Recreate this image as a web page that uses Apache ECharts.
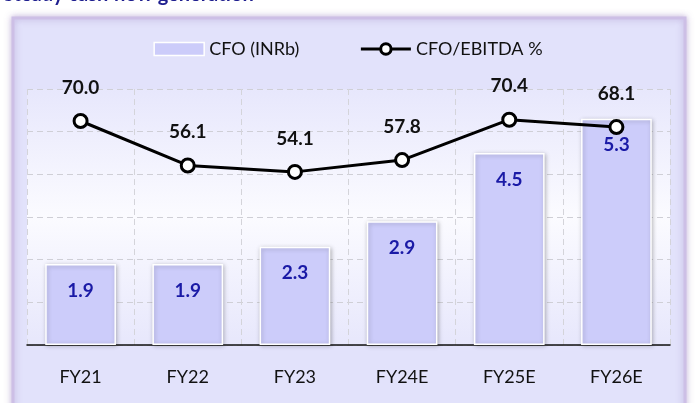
<!DOCTYPE html>
<html>
<head>
<meta charset="utf-8">
<script src="https://cdn.jsdelivr.net/npm/echarts@6/dist/echarts.min.js"></script>
<style>
  html, body { margin: 0; padding: 0; background: #fff; }
  #chart-container { width: 696px; height: 403px; }
</style>
</head>
<body>
<div id="chart-container"></div>
<script>
var dom = document.getElementById('chart-container');
var myChart = echarts.init(dom, null, { renderer: 'canvas' });

// data
var years = ['FY21', 'FY22', 'FY23', 'FY24E', 'FY25E', 'FY26E'];
var cfo = [1.9, 1.9, 2.3, 2.9, 4.5, 5.3];
var cfoEbitda = [70.0, 56.1, 54.1, 57.8, 70.4, 68.1];

var font = 'Lato, "Open Sans", sans-serif';

var option = {
  backgroundColor: '#fff',
  animation: false,
  textStyle: { fontFamily: font },
  title: {
    text: 'Steady cash flow generation',
    left: -2,
    top: -20,
    textStyle: { color: '#1f1f8f', fontSize: 20, fontWeight: 'bold', fontFamily: font }
  },
  graphic: [
    {
      type: 'rect',
      shape: { x: 13, y: 18, width: 672, height: 400 },
      style: {
        fill: '#e2e2fb',
        stroke: '#cdbfe6',
        lineWidth: 3,
        shadowBlur: 6,
        shadowColor: 'rgba(150,120,190,0.5)'
      },
      z: -10
    }
  ],
  legend: {
    top: 35,
    left: 'center',
    itemGap: 60,
    itemWidth: 50,
    itemHeight: 13,
    textStyle: { fontSize: 18, color: '#111', fontFamily: font },
    data: [
      { name: 'CFO (INRb)', icon: 'rect', itemStyle: { color: '#ccccfa', borderColor: '#fff', borderWidth: 1.5 } },
      { name: 'CFO/EBITDA %', itemStyle: { borderWidth: 3 }, lineStyle: { width: 3 } }
    ]
  },
  grid: {
    left: 27,
    right: 26,
    top: 89,
    bottom: 58,
    show: true,
    borderWidth: 0,
    backgroundColor: {
      type: 'linear', x: 0, y: 0, x2: 0, y2: 1,
      colorStops: [
        { offset: 0, color: '#e7e7fc' },
        { offset: 0.5, color: '#fbfbff' },
        { offset: 1, color: '#e7e7fc' }
      ]
    }
  },
  xAxis: {
    type: 'category',
    data: years,
    axisLine: { lineStyle: { color: '#111', width: 1.5 } },
    axisTick: { show: false },
    axisLabel: { color: '#111', fontSize: 18, margin: 23, fontFamily: font },
    splitLine: { show: true, lineStyle: { color: '#d4d4da', type: [6, 4] } }
  },
  yAxis: [
    {
      type: 'value',
      min: 0,
      max: 6,
      interval: 1,
      axisLabel: { show: false },
      axisLine: { show: false },
      axisTick: { show: false },
      splitLine: { lineStyle: { color: '#cfcfd6', type: [6, 4] } }
    },
    {
      type: 'value',
      min: 0,
      max: 80,
      interval: 10,
      axisLabel: { show: false },
      axisLine: { show: false },
      axisTick: { show: false },
      splitLine: { show: false }
    }
  ],
  series: [
    {
      name: 'CFO (INRb)',
      type: 'bar',
      data: cfo,
      barWidth: '66%',
      itemStyle: {
        color: '#ccccfa',
        borderColor: '#fff',
        borderWidth: 1.5,
        shadowBlur: 4,
        shadowColor: 'rgba(0,0,0,0.25)',
        shadowOffsetX: 1,
        shadowOffsetY: 1
      },
      label: {
        show: true,
        position: 'insideTop',
        distance: 17,
        color: '#1a1aa6',
        fontSize: 19,
        fontWeight: 'bold',
        fontFamily: font,
        formatter: function (p) { return p.value.toFixed(1); }
      }
    },
    {
      name: 'CFO/EBITDA %',
      type: 'line',
      yAxisIndex: 1,
      data: cfoEbitda,
      symbol: 'circle',
      symbolSize: 13,
      lineStyle: { color: '#000', width: 3 },
      itemStyle: { color: '#fff', borderColor: '#000', borderWidth: 3 },
      label: {
        show: true,
        position: 'top',
        distance: 16,
        color: '#111',
        fontSize: 19,
        fontWeight: 'bold',
        fontFamily: font,
        formatter: function (p) { return p.value.toFixed(1); }
      },
      z: 5
    }
  ]
};

myChart.setOption(option);
window.addEventListener('resize', myChart.resize);
</script>
</body>
</html>
